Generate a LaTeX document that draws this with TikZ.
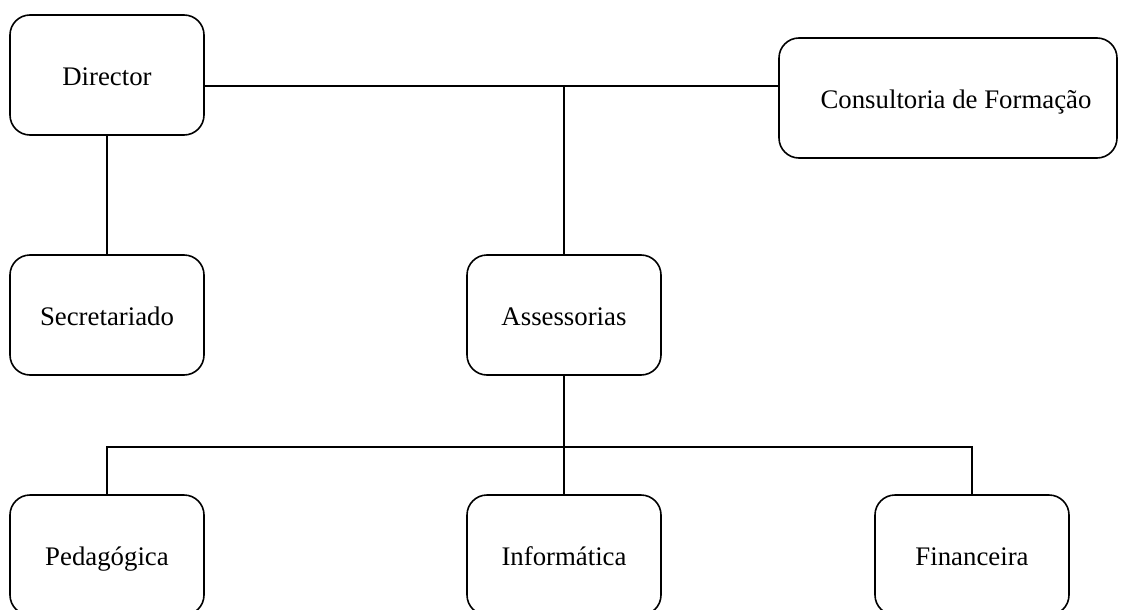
\documentclass[tikz,border=0pt]{standalone}
\usepackage{fontspec}
\setmainfont{Liberation Serif}
\begin{document}
\begin{tikzpicture}[x=1pt,y=-1pt,
  box/.style={draw, line width=1.6pt, rounded corners=20pt, minimum width=194pt, minimum height=120pt, inner sep=0pt, text height=21pt, text depth=0pt, font=\fontsize{26.8}{30}\selectfont},
  conn/.style={draw, line width=1.3pt}]
\useasboundingbox (0,0) rectangle (1127,610);
\node[box] (dir) at (107,75) {Director};
\node[box, minimum width=338pt] (cons) at (948,98) {\hspace*{16pt}Consultoria de Formação};
\node[box] (sec) at (107,315) {Secretariado};
\node[box] (ass) at (564,315) {Assessorias};
\node[box] (ped) at (107,555) {Pedagógica};
\node[box] (inf) at (564,555) {Informática};
\node[box] (fin) at (972,555) {Financeira};
\coordinate (top) at (564,86);
\coordinate (mid) at (564,447);
\draw[conn] (dir.east |- top) -- (cons.west |- top);
\draw[conn] (top) -- (ass.north);
\draw[conn] (dir.south) -- (sec.north);
\draw[conn] (ass.south) -- (mid);
\draw[conn] (ped.north) -- (ped.north |- mid) -- (fin.north |- mid) -- (fin.north);
\draw[conn] (mid) -- (inf.north);
\end{tikzpicture}
\end{document}
